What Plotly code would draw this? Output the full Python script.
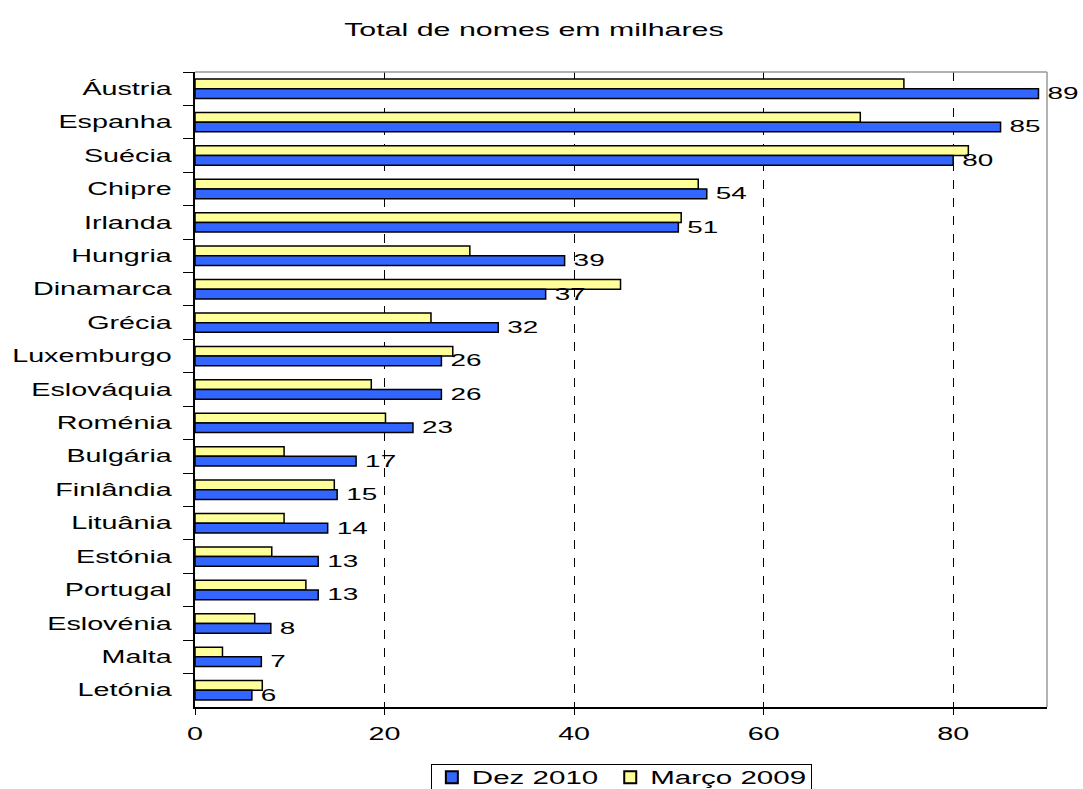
import plotly.graph_objects as go

countries = ["Áustria", "Espanha", "Suécia", "Chipre", "Irlanda", "Hungria",
             "Dinamarca", "Grécia", "Luxemburgo", "Eslováquia", "Roménia",
             "Bulgária", "Finlândia", "Lituânia", "Estónia", "Portugal",
             "Eslovénia", "Malta", "Letónia"]
dez_2010 = [89, 85, 80, 54, 51, 39, 37, 32, 26, 26, 23, 17, 15, 14, 13, 13, 8, 7, 6]
marco_2009 = [74.8, 70.2, 81.6, 53.1, 51.3, 29.0, 44.9, 24.9, 27.2, 18.6, 20.1,
              9.4, 14.7, 9.4, 8.1, 11.7, 6.3, 2.9, 7.1]
x_ticks = [0, 20, 40, 60, 80]

FONT = "Liberation Sans, Arial, sans-serif"

fig = go.Figure()
fig.add_trace(go.Bar(
    y=countries, x=marco_2009, name="Março 2009", orientation="h",
    marker=dict(color="#FFFF99", line=dict(color="black", width=1.5)),
    legendrank=2,
))
fig.add_trace(go.Bar(
    y=countries, x=dez_2010, name="Dez 2010", orientation="h",
    marker=dict(color="#3366FF", line=dict(color="black", width=1.5)),
    text=[str(v) for v in dez_2010], textposition="outside",
    textfont=dict(size=17, color="black", family=FONT),
    constraintext="none", cliponaxis=False, legendrank=1,
))

fig.update_layout(
    width=1083, height=789,
    margin=dict(l=195, r=36, t=72, b=82, autoexpand=False),
    paper_bgcolor="white", plot_bgcolor="white",
    barmode="group", bargap=0.42, bargroupgap=0,
    font=dict(family=FONT, size=17.5, color="black"),
    title=dict(text="Total de nomes em milhares", x=0.493, xanchor="center",
               y=0.962, yanchor="middle", font=dict(size=18.5)),
    showlegend=True,
    legend=dict(orientation="h", x=0.5, xanchor="center", y=-0.09, yanchor="top",
                bordercolor="black", borderwidth=1, font=dict(size=18),
                itemsizing="constant", traceorder="normal"),
)
fig.update_xaxes(
    range=[0, 89.9], tickvals=x_ticks, ticks="outside", ticklen=6,
    tickcolor="black", showline=True, linecolor="black", linewidth=1.5,
    showgrid=True, gridcolor="black", gridwidth=1, griddash="dash",
    zeroline=False, ticklabelstandoff=4,
)
fig.update_yaxes(
    autorange="reversed", ticks="outside", tickson="boundaries", ticklen=10,
    tickcolor="black", showline=True, linecolor="black", linewidth=1.5,
    showgrid=False, ticklabelstandoff=18,
)
# grey frame on the top and right sides of the plot area
fig.add_shape(type="line", xref="paper", yref="paper", x0=0, x1=1, y0=1, y1=1,
              line=dict(color="#999999", width=1.5))
fig.add_shape(type="line", xref="paper", yref="paper", x0=1, x1=1, y0=0, y1=1,
              line=dict(color="#999999", width=1.5))

# Widen every text glyph horizontally (wide lettering), then re-flow the
# legend entries so that the box fits the widened names.
stretch_js = """
(function () {
  var gd = document.getElementById('{plot_id}');
  var K = 1.64;
  var re = /translate\\(([-\\d.e]+)[ ,]*([-\\d.e]*)\\)/;
  gd.querySelectorAll('text').forEach(function (t) {
    var len = t.getComputedTextLength();
    if (!len) return;
    t.setAttribute('textLength', (len * K).toFixed(2));
    t.setAttribute('lengthAdjust', 'spacingAndGlyphs');
    if (t.classList.contains('bartext')) {
      var x = parseFloat(t.getAttribute('x')) || 0;
      t.setAttribute('x', x + len * (K - 1) / 2 + 6);
    }
  });
  var leg = gd.querySelector('g.legend');
  if (!leg) return;
  var sb = leg.querySelector('g.scrollbox');
  if (sb) sb.removeAttribute('clip-path');
  var items = leg.querySelectorAll('g.traces');
  var pos = null, first = 0, gap = 12;
  items.forEach(function (g) {
    var m = re.exec(g.getAttribute('transform') || '');
    var tx = m ? parseFloat(m[1]) : 0, ty = m && m[2] ? parseFloat(m[2]) : 0;
    if (pos === null) { pos = tx; first = tx; }
    g.setAttribute('transform', 'translate(' + pos + ',' + (ty - 6) + ')');
    var txt = g.querySelector('text.legendtext');
    pos += 40 + parseFloat(txt.getAttribute('textLength')) + gap;
  });
  var width = pos - gap + first + 4;
  var bg = leg.querySelector('rect.bg');
  if (bg) bg.setAttribute('width', width);
  var lm = re.exec(leg.getAttribute('transform') || '');
  var ly = lm && lm[2] ? parseFloat(lm[2]) : 0;
  var fl = gd._fullLayout;
  var cx = fl._size.l + fl._size.w * 0.5;
  leg.setAttribute('transform', 'translate(' + (cx - width / 2) + ',' + ly + ')');
})();
"""

fig.write_html("out.html", post_script=stretch_js, config={"responsive": False})
